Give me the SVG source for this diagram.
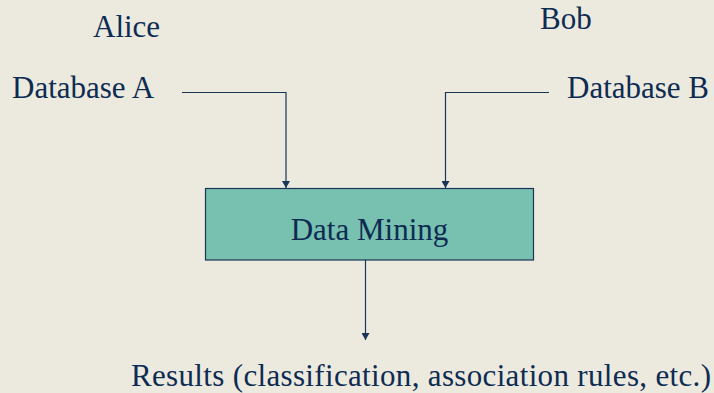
<svg xmlns="http://www.w3.org/2000/svg" width="714" height="393" viewBox="0 0 714 393">
  <style>
    .c { fill: none; stroke: #1B3558; stroke-width: 1.2; }
  </style>
  <defs>
    <marker id="head" markerWidth="8" markerHeight="8" refX="7" refY="4" orient="auto" markerUnits="userSpaceOnUse">
      <path d="M0,0 L7,4 L0,8 Z" fill="#1B3558"/>
    </marker>
  </defs>
  <rect width="714" height="393" fill="#ECEADF"/>

  <g font-family="Liberation Serif, DejaVu Serif, serif" font-size="31" fill="#0E2B52">
    <g id="alice"><text x="93" y="37">Alice</text></g>
    <g id="bob"><text x="540" y="29">Bob</text></g>
    <g id="database-a"><text x="12" y="98">Database A</text></g>
    <g id="database-b"><text x="567" y="98">Database B</text></g>

    <g id="data-mining">
      <rect x="205.5" y="188.5" width="328" height="71.5" fill="#78C0B0" stroke="#1B3558" stroke-width="1.2"/>
      <text x="369.5" y="240" text-anchor="middle">Data Mining</text>
    </g>

    <g id="results"><text x="131" y="386" textLength="580" lengthAdjust="spacing">Results (classification, association rules, etc.)</text></g>
  </g>

  <g id="connectors">
    <path class="c" d="M182,92.5 H286 V188" marker-end="url(#head)"/>
    <path class="c" d="M549,92.5 H445.5 V188" marker-end="url(#head)"/>
    <path class="c" d="M365.5,260 V340" marker-end="url(#head)"/>
  </g>
</svg>
